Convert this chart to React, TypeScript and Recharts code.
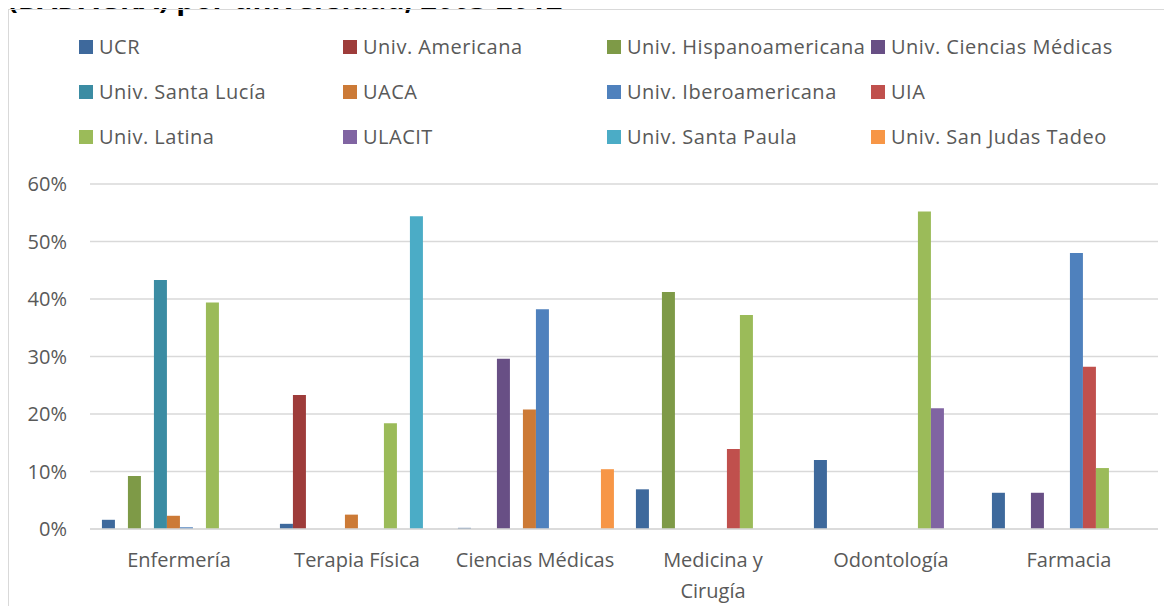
import React from "react";
import { BarChart, Bar, XAxis, YAxis, CartesianGrid, Legend } from "recharts";

const categories = [
  "Enfermería",
  "Terapia Física",
  "Ciencias Médicas",
  "Medicina y Cirugía",
  "Odontología",
  "Farmacia",
];

const universities = [
  "UCR",
  "Univ. Americana",
  "Univ. Hispanoamericana",
  "Univ. Ciencias Médicas",
  "Univ. Santa Lucía",
  "UACA",
  "Univ. Iberoamericana",
  "UIA",
  "Univ. Latina",
  "ULACIT",
  "Univ. Santa Paula",
  "Univ. San Judas Tadeo",
];

// percent of graduates, one value per category
const ucr = [1.6, 0.9, 0.2, 6.9, 12.0, 6.3];
const americana = [0, 23.3, 0, 0, 0, 0];
const hispanoamericana = [9.2, 0, 0, 41.2, 0, 0];
const cienciasMedicas = [0, 0, 29.6, 0, 0, 6.3];
const santaLucia = [43.3, 0, 0, 0, 0, 0];
const uaca = [2.3, 2.5, 20.8, 0, 0, 0];
const iberoamericana = [0.3, 0, 38.2, 0, 0, 48.0];
const uia = [0, 0, 0, 13.9, 0, 28.2];
const latina = [39.4, 18.4, 0, 37.2, 55.2, 10.6];
const ulacit = [0, 0, 0, 0, 21.0, 0];
const santaPaula = [0, 54.4, 0, 0, 0, 0];
const sanJudas = [0, 0, 10.4, 0, 0, 0];

const seriesValues = [
  ucr,
  americana,
  hispanoamericana,
  cienciasMedicas,
  santaLucia,
  uaca,
  iberoamericana,
  uia,
  latina,
  ulacit,
  santaPaula,
  sanJudas,
];

const yTicks = [0, 10, 20, 30, 40, 50, 60];

const COLORS = [
  "#3E699C",
  "#9E3C3A",
  "#7E9A47",
  "#684F85",
  "#3B8CA3",
  "#CC7A36",
  "#4F81BD",
  "#C0504D",
  "#9BBB59",
  "#8064A2",
  "#4BACC6",
  "#F79646",
];

const TEXT = "#595959";
const GRID = "#D9D9D9";
const FONT = "'Open Sans', Lato, sans-serif";

const data = categories.map((name, i) => {
  const row: Record<string, string | number> = { name };
  universities.forEach((u, j) => {
    row[u] = seriesValues[j][i];
  });
  return row;
});

// eslint-disable-next-line @typescript-eslint/no-explicit-any
function CategoryTick(props: any) {
  const { x, y, payload } = props;
  const label: string = payload.value;
  let lines = [label];
  if (label.length > 16) {
    const cut = label.lastIndexOf(" ");
    lines = [label.slice(0, cut), label.slice(cut + 1)];
  }
  return (
    <text x={x} y={y + 38} textAnchor="middle" fill={TEXT} fontSize={20} fontFamily={FONT}>
      {lines.map((l, i) => (
        <tspan key={i} x={x} dy={i === 0 ? 0 : 31}>
          {l}
        </tspan>
      ))}
    </text>
  );
}

// legend in series order, 4 columns like the original
function GridLegend() {
  return (
    <div
      style={{
        display: "grid",
        gridTemplateColumns: "264px 264px 264px 264px",
        gridAutoRows: "45px",
        alignItems: "center",
        fontFamily: FONT,
        fontSize: 20,
        letterSpacing: 0.5,
        color: TEXT,
      }}
    >
      {universities.map((u, j) => (
        <div key={u} style={{ display: "flex", alignItems: "center", whiteSpace: "nowrap" }}>
          <span
            style={{ width: 14, height: 14, background: COLORS[j], display: "inline-block", marginRight: 6 }}
          />
          <span>{u}</span>
        </div>
      ))}
    </div>
  );
}

export default function App() {
  return (
    <div style={{ position: "relative", margin: -8, width: 1172, height: 614, overflow: "hidden", background: "#fff" }}>
      <svg style={{ position: "absolute", left: 0, top: 0 }} width={1172} height={20}>
        <text x={8} y={9} fontFamily={FONT} fontWeight={700} fontSize={29} fill="#000">
          (BADAGRA) por universidad, 2003-2012
        </text>
      </svg>
      <div
        style={{
          position: "absolute",
          left: 8,
          top: 9,
          width: 1164,
          height: 605,
          borderLeft: `1px solid ${GRID}`,
          borderTop: `1px solid ${GRID}`,
          boxSizing: "border-box",
        }}
      />
      <div style={{ position: "absolute", left: 0, top: 0 }}>
        <BarChart
          width={1172}
          height={614}
          data={data}
          margin={{ top: 184, right: 14, bottom: 55, left: 0 }}
          barCategoryGap="6.7%"
          barGap={0}
        >
          <CartesianGrid vertical={false} stroke={GRID} strokeWidth={1.3} />
          <XAxis
            dataKey="name"
            height={30}
            axisLine={{ stroke: GRID, strokeWidth: 1.3 }}
            tickLine={false}
            tickSize={0}
            tickMargin={0}
            interval={0}
            tick={<CategoryTick />}
          />
          <YAxis
            domain={[0, 60]}
            ticks={yTicks}
            width={90}
            axisLine={false}
            tickLine={false}
            tickSize={0}
            tickMargin={23}
            tickFormatter={(v: number) => `${v}%`}
            tick={{ fill: TEXT, fontSize: 20, fontFamily: FONT }}
          />
          <Legend
            layout="horizontal"
            verticalAlign="middle"
            align="center"
            wrapperStyle={{ top: 24, left: 79, width: 1080, height: 140 }}
            content={<GridLegend />}
          />
          {universities.map((u, j) => (
            <Bar key={u} dataKey={u} fill={COLORS[j]} isAnimationActive={false} />
          ))}
        </BarChart>
      </div>
    </div>
  );
}
